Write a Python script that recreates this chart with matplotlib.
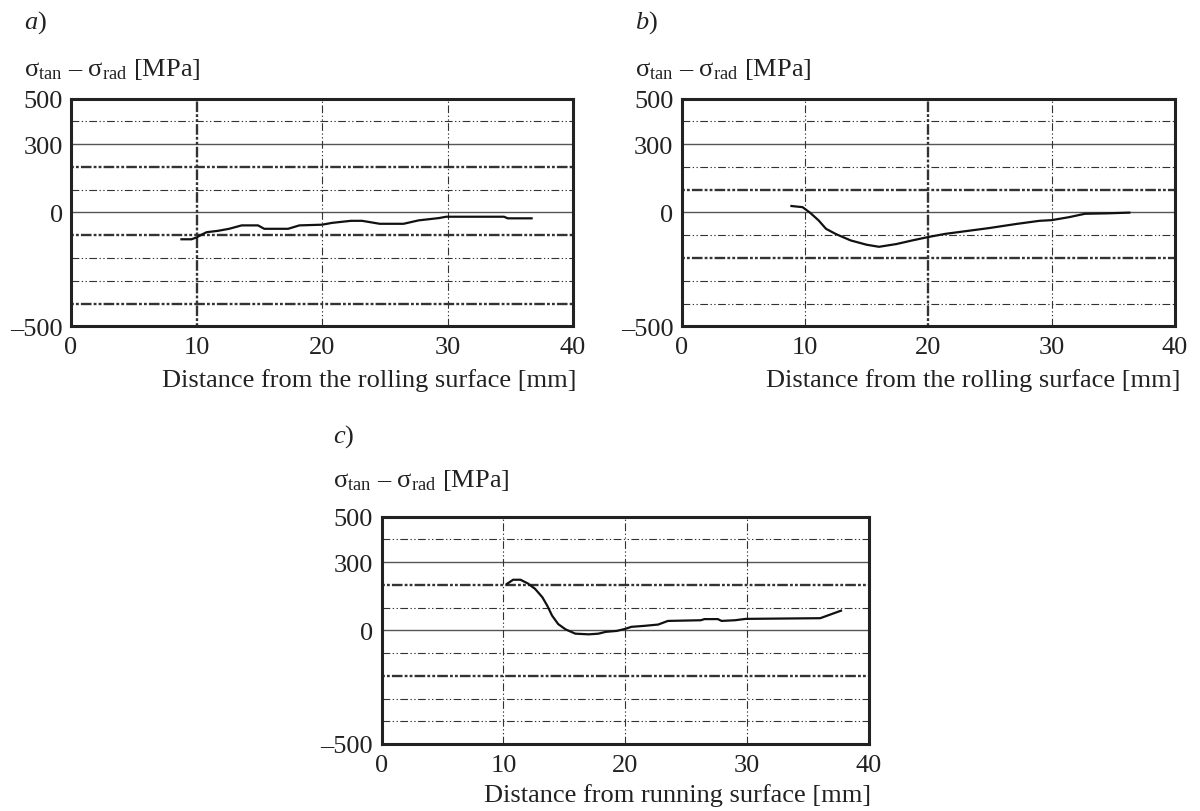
import matplotlib
matplotlib.use("Agg")
import matplotlib.pyplot as plt

plt.rcParams['font.family'] = ['Liberation Serif', 'DejaVu Serif']
plt.rcParams['mathtext.fontset'] = 'custom'
plt.rcParams['mathtext.rm'] = 'Liberation Serif'
plt.rcParams['mathtext.it'] = 'Liberation Serif:italic'
plt.rcParams['mathtext.bf'] = 'Liberation Serif:bold'

# ---------------- data ----------------
xa = [8.8, 9.6, 10.0, 10.4, 10.8, 11.7, 12.6, 13.6, 14.9, 15.4, 17.3, 18.2, 20.0,
      20.8, 22.3, 23.2, 24.6, 26.5, 27.7, 29.3, 29.9, 34.5, 34.8, 36.7]
ya = [-118, -118, -110, -98, -87, -81, -72, -57, -57, -72, -72, -57, -54,
      -46, -37, -37, -50, -50, -35, -25, -19, -19, -26, -26]

xb = [8.9, 9.8, 10.4, 11.1, 11.7, 12.5, 13.7, 15.0, 16.0, 17.4, 18.7, 20.0,
      21.4, 22.8, 24.9, 27.1, 29.0, 30.0, 31.4, 32.7, 34.6, 36.3]
yb = [28, 23, -1, -35, -72, -95, -123, -142, -151, -139, -123, -108,
      -94, -84, -69, -51, -37, -34, -21, -6, -4, -1]

xc = [10.3, 10.8, 11.4, 12.0, 12.6, 13.2, 13.6, 14.0, 14.5, 15.1, 15.9, 17.0,
      17.8, 18.4, 19.3, 20.0, 20.5, 21.5, 22.7, 23.5, 26.2, 26.5, 27.6, 27.9,
      29.0, 29.9, 36.0, 37.7]
yc = [204, 222, 222, 206, 182, 145, 108, 64, 27, 4, -15, -18,
      -15, -7, -3, 6, 15, 19, 25, 41, 44, 49, 49, 41,
      44, 50, 53, 86]

xticks = [0, 10, 20, 30, 40]
xticklabels = ['0', '10', '20', '30', '40']
yticks = [-500, 0, 300, 500]
yticklabels = ['\u2013500', '0', '300', '500']
hgrid = [400, 300, 200, 100, 0, -100, -200, -300, -400]
vgrid = [10, 20, 30]

panel_letters = ['a', 'b', 'c']
ylabel_text = r'$\mathrm{\sigma}_{\mathrm{tan}}$ ' + '\u2013' + r' $\mathrm{\sigma}_{\mathrm{rad}}$ [MPa]'
xlabels = ['Distance from the rolling surface [mm]',
           'Distance from the rolling surface [mm]',
           'Distance from running surface [mm]']

# ---------------- layout ----------------
W, H = 1200, 812
fig = plt.figure(figsize=(W / 100, H / 100), dpi=100)


def box(l, r, t, b):
    return [l / W, 1 - b / H, (r - l) / W, (b - t) / H]


boxes = [box(71, 573, 99.5, 327.3),
         box(681.7, 1175, 99.5, 327.3),
         box(381.5, 869, 517.5, 745)]
heavy_h = [[200, -100, -400], [100, -200], [200, -200]]
heavy_v = [[10], [20], []]
solid_h = [300, 0]

letter_pos = [(24, 29), (634.7, 29), (333, 443)]
ylab_pos = [(24, 76), (634.7, 76), (333, 487)]
xlab_pos = [(577, 387), (1181, 387), (871, 802)]

series = [(xa, ya), (xb, yb), (xc, yc)]

dash = (0, (7, 2.2, 1.2, 2.2, 1.2, 2.2))
heavy_dash = (0, (1.2, 0.9, 1.2, 0.9, 4.5, 0.9))
gcol = '#333333'
FS = 19

for i in range(3):
    ax = fig.add_axes(boxes[i])
    ax.set_xlim(0, 40)
    ax.set_ylim(-500, 500)
    for yv in hgrid:
        if yv in solid_h:
            ax.axhline(yv, color='#555555', lw=1.0, zorder=1)
        else:
            heavy = yv in heavy_h[i]
            ax.axhline(yv, color=gcol, lw=1.7 if heavy else 0.8,
                       linestyle=heavy_dash if heavy else dash, zorder=1)
    for xv in vgrid:
        heavy = xv in heavy_v[i]
        ax.axvline(xv, color=gcol, lw=1.7 if heavy else 0.8,
                   linestyle=heavy_dash if heavy else dash, zorder=1)
    x, y = series[i]
    ax.plot(x, y, color='#111111', lw=1.6, zorder=3, solid_joinstyle='round')

    ax.set_xticks(xticks)
    ax.set_xticklabels(xticklabels)
    ax.set_yticks(yticks)
    ax.set_yticklabels(yticklabels)
    ax.tick_params(axis='both', length=0, labelsize=FS, colors='#222222')
    ax.tick_params(axis='x', pad=7)
    ax.tick_params(axis='y', pad=6)
    for s in ax.spines.values():
        s.set_linewidth(2.2)
        s.set_color('#222222')

    lx, ly = letter_pos[i]
    fig.text(lx / W, 1 - ly / H, r'$\mathit{%s}$)' % panel_letters[i],
             fontsize=FS, ha='left', va='baseline', color='#222222')
    yx, yy = ylab_pos[i]
    fig.text(yx / W, 1 - yy / H, ylabel_text, fontsize=FS, ha='left',
             va='baseline', color='#222222')
    xx, xy = xlab_pos[i]
    fig.text(xx / W, 1 - xy / H, xlabels[i], fontsize=FS, ha='right',
             va='baseline', color='#222222')

fig.savefig('out.png', dpi=100, facecolor='white')
